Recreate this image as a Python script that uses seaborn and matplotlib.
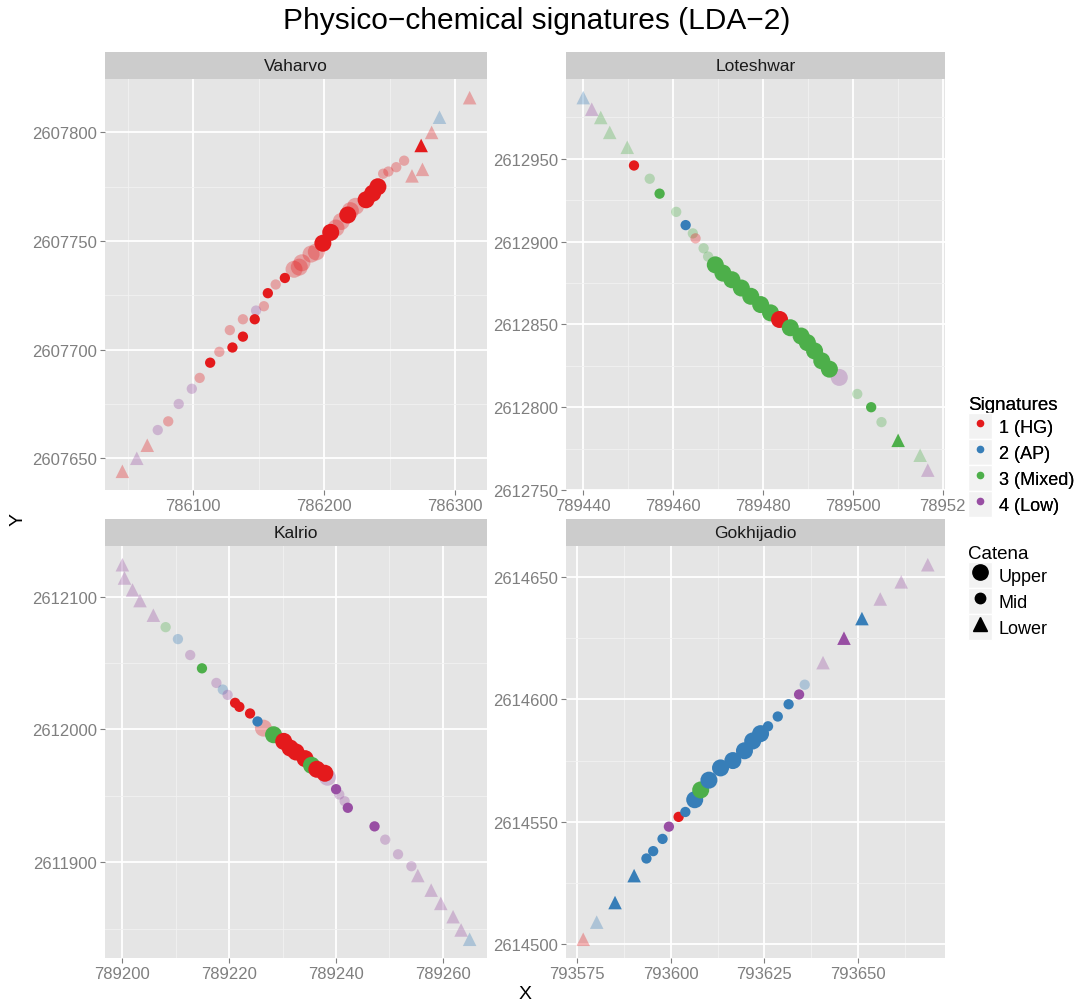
import numpy as np
import pandas as pd
import matplotlib
matplotlib.use("Agg")
import matplotlib.pyplot as plt
from matplotlib.lines import Line2D
from matplotlib.patches import Rectangle
from matplotlib.legend_handler import HandlerTuple
from matplotlib.ticker import AutoMinorLocator
import seaborn as sns

# ─────────────────────────────────────────────
# Data
# sig: 1=HG, 2=AP, 3=Mixed, 4=Low ; cat: U/M/L ; solid: 1 = confident, 0 = faded
# ─────────────────────────────────────────────
VAH_X = [786311, 786288, 786282, 786274, 786275, 786267, 786065, 786057, 786046,
         786261, 786255, 786249, 786245, 786163, 786154, 786138, 786128, 786120, 786105, 786081,
         786224, 786220, 786213, 786209, 786194, 786190, 786183, 786181, 786177,
         786148, 786099, 786089, 786073,
         786170, 786157, 786147, 786138, 786130, 786113,
         786241, 786237, 786232, 786218, 786205, 786199]
VAH_Y = [2607816, 2607807, 2607800, 2607794, 2607783, 2607780, 2607656, 2607650, 2607644,
         2607787, 2607784, 2607782, 2607781, 2607730, 2607720, 2607714, 2607709, 2607699, 2607687, 2607667,
         2607766, 2607764, 2607759, 2607756, 2607745, 2607744, 2607740, 2607738, 2607737,
         2607718, 2607682, 2607675, 2607663,
         2607733, 2607726, 2607714, 2607706, 2607701, 2607694,
         2607775, 2607772, 2607769, 2607762, 2607754, 2607749]
VAH_SIG = [1, 2, 1, 1, 1, 1, 1, 4, 1,
           1, 1, 1, 1, 1, 1, 1, 1, 1, 1, 1,
           1, 1, 1, 1, 1, 1, 1, 1, 1,
           4, 4, 4, 4,
           1, 1, 1, 1, 1, 1,
           1, 1, 1, 1, 1, 1]
VAH_CAT = list("LLLLLLLLL") + list("MMMMMMMMMMM") + list("UUUUUUUUU") + list("MMMM") + \
          list("MMMMMM") + list("UUUUUU")
VAH_SOLID = [0, 0, 0, 1, 0, 0, 0, 0, 0,
             0, 0, 0, 0, 0, 0, 0, 0, 0, 0, 0,
             0, 0, 0, 0, 0, 0, 0, 0, 0,
             0, 0, 0, 0,
             1, 1, 1, 1, 1, 1,
             1, 1, 1, 1, 1, 1]

LOT_X = [789440.0, 789441.9, 789443.9, 789445.9, 789449.8, 789510.1, 789515.0, 789516.7,
         789451.3, 789454.8, 789457.0, 789460.7, 789462.8, 789464.4, 789465.0, 789466.8, 789467.8,
         789501.0, 789504.1, 789506.4,
         789469.4, 789471.1, 789473.1, 789475.2, 789477.3, 789479.5, 789481.7, 789483.7,
         789486.1, 789488.5, 789489.9, 789491.5, 789493.1, 789494.8, 789497.0]
LOT_Y = [2612987, 2612980, 2612975, 2612966, 2612957, 2612780, 2612771, 2612762,
         2612946, 2612938, 2612929, 2612918, 2612910, 2612905, 2612902, 2612896, 2612891,
         2612808, 2612800, 2612791,
         2612886, 2612881, 2612877, 2612872, 2612867, 2612862, 2612857, 2612853,
         2612848, 2612843, 2612839, 2612834, 2612828, 2612823, 2612818]
LOT_SIG = [2, 4, 3, 3, 3, 3, 3, 4,
           1, 3, 3, 3, 2, 3, 1, 3, 3,
           3, 3, 3,
           3, 3, 3, 3, 3, 3, 3, 1,
           3, 3, 3, 3, 3, 3, 4]
LOT_CAT = list("LLLLLLLL") + list("MMMMMMMMM") + list("MMM") + list("UUUUUUUUUUUUUUU")
LOT_SOLID = [0, 0, 0, 0, 0, 1, 0, 0,
             1, 0, 1, 0, 1, 0, 0, 0, 0,
             0, 1, 0,
             1, 1, 1, 1, 1, 1, 1, 1,
             1, 1, 1, 1, 1, 1, 0]

KAL_X = [789200.0, 789200.4, 789201.9, 789203.3, 789205.8,
         789255.3, 789257.8, 789259.6, 789261.9, 789263.4, 789265.0,
         789208.1, 789210.4, 789212.7, 789214.9, 789217.6, 789218.8, 789219.7,
         789221.1, 789221.9, 789223.9, 789225.3,
         789240.0, 789240.6, 789241.6, 789242.2, 789247.2, 789249.2, 789251.6, 789254.1,
         789226.4, 789228.3, 789230.2, 789231.4, 789232.5, 789234.2, 789235.4, 789236.4,
         789237.9, 789238.4]
KAL_Y = [2612124, 2612114, 2612105, 2612097, 2612086,
         2611890, 2611879, 2611869, 2611859, 2611849, 2611842,
         2612077, 2612068, 2612056, 2612046, 2612035, 2612030, 2612026,
         2612020, 2612017, 2612012, 2612006,
         2611955, 2611951, 2611946, 2611941, 2611927, 2611917, 2611906, 2611897,
         2612001, 2611996, 2611991, 2611986, 2611983, 2611978, 2611973, 2611970,
         2611967, 2611964]
KAL_SIG = [4, 4, 4, 4, 4,
           4, 4, 4, 4, 4, 2,
           3, 2, 4, 3, 4, 2, 4,
           1, 1, 1, 2,
           4, 4, 4, 4, 4, 4, 4, 4,
           1, 3, 1, 1, 1, 1, 3, 1,
           1, 4]
KAL_CAT = list("LLLLL") + list("LLLLLL") + list("MMMMMMM") + list("MMMM") + \
          list("MMMMMMMM") + list("UUUUUUUUUU")
KAL_SOLID = [0, 0, 0, 0, 0,
             0, 0, 0, 0, 0, 0,
             0, 0, 0, 1, 0, 0, 0,
             1, 1, 1, 1,
             1, 0, 0, 1, 1, 0, 0, 0,
             0, 1, 1, 1, 1, 1, 1, 1,
             1, 0]

GOK_X = [793576.6, 793580.2, 793585.1, 793590.2, 793640.7, 793646.3, 793651.1, 793656.0,
         793661.6, 793668.7,
         793593.5, 793595.3, 793597.8, 793599.5, 793602.1, 793603.9,
         793626.0, 793628.6, 793631.5, 793634.3, 793635.8,
         793606.4, 793608.0, 793610.2, 793613.3, 793616.6, 793619.7, 793621.9, 793624.0]
GOK_Y = [2614502, 2614509, 2614517, 2614528, 2614615, 2614625, 2614633, 2614641,
         2614648, 2614655,
         2614535, 2614538, 2614543, 2614548, 2614552, 2614554,
         2614589, 2614593, 2614598, 2614602, 2614606,
         2614559, 2614563, 2614567, 2614572, 2614575, 2614579, 2614583, 2614586]
GOK_SIG = [1, 2, 2, 2, 4, 4, 2, 4,
           4, 4,
           2, 2, 2, 4, 1, 2,
           2, 2, 2, 4, 2,
           2, 3, 2, 2, 2, 2, 2, 2]
GOK_CAT = list("LLLLLLLLLL") + list("MMMMMM") + list("MMMMM") + list("UUUUUUUU")
GOK_SOLID = [0, 0, 1, 1, 0, 1, 1, 0,
             0, 0,
             1, 1, 1, 1, 1, 1,
             1, 1, 1, 1, 0,
             1, 1, 1, 1, 1, 1, 1, 1]

SITES = ["Vaharvo", "Loteshwar", "Kalrio", "Gokhijadio"]
SITE_DATA = {
    "Vaharvo":    (VAH_X, VAH_Y, VAH_SIG, VAH_CAT, VAH_SOLID),
    "Loteshwar":  (LOT_X, LOT_Y, LOT_SIG, LOT_CAT, LOT_SOLID),
    "Kalrio":     (KAL_X, KAL_Y, KAL_SIG, KAL_CAT, KAL_SOLID),
    "Gokhijadio": (GOK_X, GOK_Y, GOK_SIG, GOK_CAT, GOK_SOLID),
}
X_TICKS = {
    "Vaharvo":    [786100, 786200, 786300],
    "Loteshwar":  [789440, 789460, 789480, 789500, 789520],
    "Kalrio":     [789200, 789220, 789240, 789260],
    "Gokhijadio": [793575, 793600, 793625, 793650],
}
X_TICKLABELS = {"Loteshwar": ["789440", "789460", "789480", "789500", "78952"]}
Y_TICKS = {
    "Vaharvo":    [2607650, 2607700, 2607750, 2607800],
    "Loteshwar":  [2612750, 2612800, 2612850, 2612900, 2612950],
    "Kalrio":     [2611900, 2612000, 2612100],
    "Gokhijadio": [2614500, 2614550, 2614600, 2614650],
}

SIG_LABELS = ["1 (HG)", "2 (AP)", "3 (Mixed)", "4 (Low)"]
CAT_LABELS = ["Upper", "Mid", "Lower"]
CAT_CODE = {"U": "Upper", "M": "Mid", "L": "Lower"}

PALETTE = dict(zip(SIG_LABELS, ["#E41A1C", "#377EB8", "#4DAF4A", "#984EA3"]))
MARKERS = {"Upper": "o", "Mid": "o", "Lower": "^"}
SIZES = {"Upper": 150, "Mid": 55, "Lower": 95}
LEG_MS = {"Upper": 11, "Mid": 7.5, "Lower": 10}

# ─────────────────────────────────────────────
# Layout (pixel boxes of panels, figure 1081 x 1004)
# ─────────────────────────────────────────────
W, H = 1081, 1004
PANEL_BOX = {  # left, top, right, bottom in px
    "Vaharvo":    (105, 80, 487, 491),
    "Loteshwar":  (566, 80, 945, 491),
    "Kalrio":     (105, 547, 487, 959),
    "Gokhijadio": (566, 547, 945, 959),
}
STRIP_H = 27

plt.rcParams["font.family"] = ["Liberation Sans", "DejaVu Sans"]
fig = plt.figure(figsize=(W / 100, H / 100), dpi=100)


def px_axes(l, t, r, b):
    return fig.add_axes([l / W, 1 - b / H, (r - l) / W, (b - t) / H])


for site in SITES:
    xs, ys, sig, cat, solid = SITE_DATA[site]
    df = pd.DataFrame({
        "X": xs, "Y": ys,
        "Signatures": [SIG_LABELS[s - 1] for s in sig],
        "Catena": [CAT_CODE[c] for c in cat],
        "solid": solid,
    })
    l, t, r, b = PANEL_BOX[site]
    ax = px_axes(l, t, r, b)
    ax.set_facecolor("#E5E5E5")
    ax.set_axisbelow(True)

    for flag, alpha in [(0, 0.32), (1, 1.0)]:
        sub = df[df["solid"] == flag]
        sns.scatterplot(data=sub, x="X", y="Y", hue="Signatures", style="Catena",
                        size="Catena", hue_order=SIG_LABELS, style_order=CAT_LABELS,
                        size_order=CAT_LABELS, palette=PALETTE, markers=MARKERS,
                        sizes=SIZES, alpha=alpha, linewidth=0, legend=False, ax=ax)

    # ggplot-like expansion of 5 %
    xr = df["X"].max() - df["X"].min()
    yr = df["Y"].max() - df["Y"].min()
    ax.set_xlim(df["X"].min() - 0.05 * xr, df["X"].max() + 0.05 * xr)
    ax.set_ylim(df["Y"].min() - 0.05 * yr, df["Y"].max() + 0.05 * yr)

    ax.set_xticks(X_TICKS[site])
    ax.set_xticklabels(X_TICKLABELS.get(site, [str(v) for v in X_TICKS[site]]))
    ax.set_yticks(Y_TICKS[site])
    ax.set_yticklabels([str(v) for v in Y_TICKS[site]])
    ax.xaxis.set_minor_locator(AutoMinorLocator(2))
    ax.yaxis.set_minor_locator(AutoMinorLocator(2))
    ax.grid(True, which="major", color="white", linewidth=1.3)
    ax.grid(True, which="minor", color="#F2F2F2", linewidth=0.6)
    ax.tick_params(which="major", length=3.5, width=0.8, color="#7F7F7F",
                   labelsize=12, labelcolor="#7F7F7F", pad=2)
    ax.tick_params(which="minor", length=0)
    ax.set_xlabel("")
    ax.set_ylabel("")
    for sp in ax.spines.values():
        sp.set_visible(False)

    # facet strip
    sax = px_axes(l, t - STRIP_H, r, t)
    sax.set_facecolor("#CCCCCC")
    sax.set_xticks([])
    sax.set_yticks([])
    for sp in sax.spines.values():
        sp.set_visible(False)
    sax.text(0.5, 0.5, site, ha="center", va="center", fontsize=12.5,
             color="#1A1A1A", transform=sax.transAxes)

fig.text(537 / W, 1 - 21 / H, "Physico\u2212chemical signatures (LDA\u22122)",
         ha="center", va="center", fontsize=21.5)
fig.text(525 / W, 1 - 995 / H, "X", ha="center", va="center", fontsize=14)
fig.text(18 / W, 1 - 520 / H, "Y", ha="center", va="center", fontsize=14, rotation=90)


# ─────────────────────────────────────────────
# Legends with ggplot-style grey key boxes
# ─────────────────────────────────────────────
def key_box():
    return Rectangle((0, 0), 1, 1, facecolor="#F2F2F2", edgecolor="white", linewidth=1)


sig_handles = [(key_box(), Line2D([], [], marker="o", linestyle="", color=PALETTE[s],
                                  markersize=4.5)) for s in SIG_LABELS]
cat_handles = [(key_box(), Line2D([], [], marker=MARKERS[c], linestyle="", color="black",
                                  markersize=LEG_MS[c])) for c in CAT_LABELS]
leg_kw = dict(loc="upper left", frameon=False, fontsize=13, title_fontsize=13.5,
              alignment="left", handlelength=1.33, handleheight=1.84,
              handletextpad=0.35, labelspacing=0.0, borderaxespad=0, borderpad=0.3,
              handler_map={tuple: HandlerTuple(ndivide=1, pad=0)})
leg1 = fig.legend(sig_handles, SIG_LABELS, title="Signatures",
                  bbox_to_anchor=(963 / W, 1 - 392 / H), **leg_kw)
leg2 = fig.legend(cat_handles, CAT_LABELS, title="Catena",
                  bbox_to_anchor=(963 / W, 1 - 541 / H), **leg_kw)
fig.add_artist(leg1)

fig.savefig("out.png", dpi=100)
